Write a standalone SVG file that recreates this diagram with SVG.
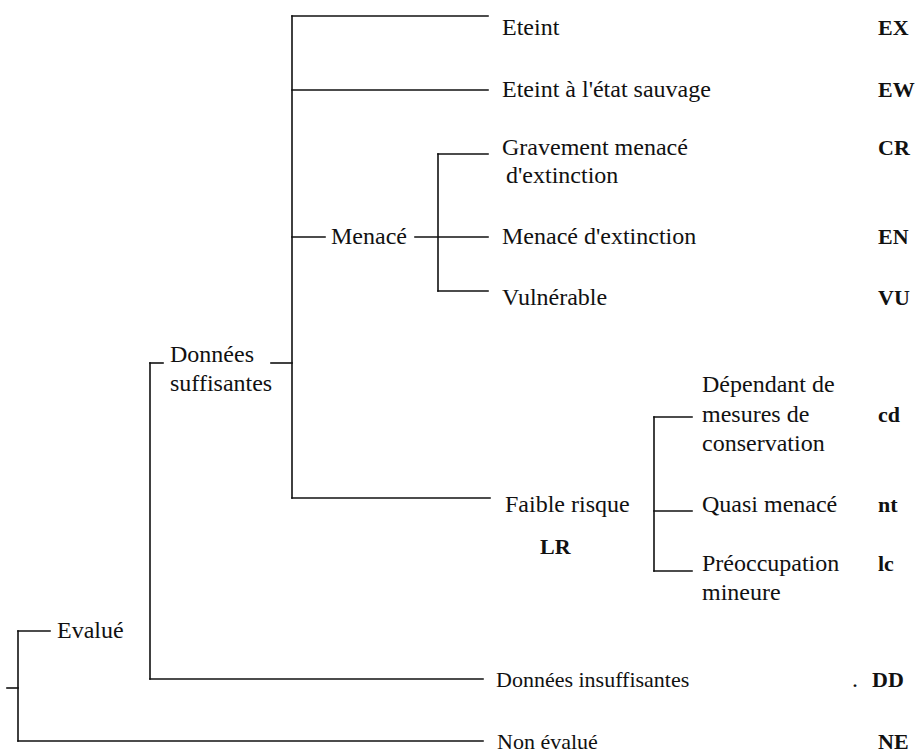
<svg xmlns="http://www.w3.org/2000/svg" width="920" height="754" viewBox="0 0 920 754">
<style>
.t{font-family:"Liberation Serif","Times New Roman",serif;font-size:24px;fill:#111}
.s{font-size:22px}
.b{font-weight:bold;font-size:22px}
#connectors line{stroke:#111;stroke-width:1.6;stroke-linecap:square}
</style>
<rect width="920" height="754" fill="#fff"/>
<g id="connectors">
<line x1="7" y1="688" x2="18" y2="688"/>
<line x1="18" y1="631" x2="18" y2="741"/>
<line x1="18" y1="631" x2="50" y2="631"/>
<line x1="18" y1="741" x2="483" y2="741"/>
<line x1="150" y1="363" x2="150" y2="679"/>
<line x1="150" y1="363" x2="163" y2="363"/>
<line x1="150" y1="679" x2="483" y2="679"/>
<line x1="271" y1="363" x2="292" y2="363"/>
<line x1="292" y1="16" x2="292" y2="498"/>
<line x1="292" y1="16" x2="488" y2="16"/>
<line x1="292" y1="90" x2="488" y2="90"/>
<line x1="292" y1="237" x2="325" y2="237"/>
<line x1="292" y1="498" x2="490" y2="498"/>
<line x1="415" y1="237" x2="488" y2="237"/>
<line x1="438" y1="154" x2="438" y2="291"/>
<line x1="438" y1="154" x2="488" y2="154"/>
<line x1="438" y1="291" x2="488" y2="291"/>
<line x1="654" y1="417" x2="654" y2="571"/>
<line x1="654" y1="417" x2="692" y2="417"/>
<line x1="654" y1="511" x2="692" y2="511"/>
<line x1="654" y1="571" x2="692" y2="571"/>
</g>
<g id="evalue" class="t"><text x="57" y="638">Evalué</text></g>
<g id="non-evalue" class="t"><text class="s" x="497" y="749">Non évalué</text><text class="b" x="878" y="749">NE</text></g>
<g id="donnees-suffisantes" class="t"><text x="170" y="362">Données</text><text x="170" y="391">suffisantes</text></g>
<g id="donnees-insuffisantes" class="t"><text class="s" x="496" y="687">Données insuffisantes</text><text x="852" y="687">.</text><text class="b" x="872" y="687">DD</text></g>
<g id="eteint" class="t"><text x="502" y="35">Eteint</text><text class="b" x="878" y="35">EX</text></g>
<g id="eteint-sauvage" class="t"><text x="502" y="97">Eteint à l'état sauvage</text><text class="b" x="878" y="97">EW</text></g>
<g id="menace" class="t"><text x="331" y="244">Menacé</text></g>
<g id="gravement" class="t"><text x="502" y="155">Gravement menacé</text><text x="506" y="183">d'extinction</text><text class="b" x="878" y="155">CR</text></g>
<g id="menace-extinction" class="t"><text x="502" y="244">Menacé d'extinction</text><text class="b" x="878" y="244">EN</text></g>
<g id="vulnerable" class="t"><text x="502" y="305">Vulnérable</text><text class="b" x="878" y="305">VU</text></g>
<g id="faible-risque" class="t"><text x="505" y="512">Faible risque</text><text class="b" x="540" y="554">LR</text></g>
<g id="dependant" class="t"><text x="702" y="392">Dépendant de</text><text x="702" y="422">mesures de</text><text x="702" y="451">conservation</text><text class="b" x="878" y="422">cd</text></g>
<g id="quasi" class="t"><text x="702" y="512">Quasi menacé</text><text class="b" x="878" y="512">nt</text></g>
<g id="preoccupation" class="t"><text x="702" y="571">Préoccupation</text><text x="702" y="600">mineure</text><text class="b" x="878" y="571">lc</text></g>
</svg>
